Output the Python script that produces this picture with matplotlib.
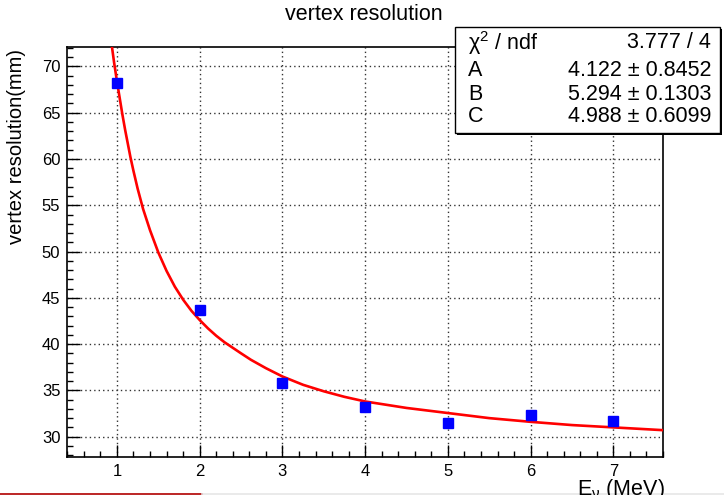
import numpy as np
import matplotlib.pyplot as plt
from matplotlib.patches import Rectangle
from matplotlib.ticker import MultipleLocator

plt.rcParams['font.family'] = ['Liberation Sans', 'DejaVu Sans']
plt.rcParams['mathtext.fontset'] = 'custom'
plt.rcParams['mathtext.rm'] = 'Liberation Sans'
plt.rcParams['mathtext.it'] = 'Liberation Sans'

# measured points
energy = [1, 2, 3, 4, 5, 6, 7]
resolution = [68.2, 43.7, 35.8, 33.2, 31.45, 32.3, 31.7]

# fit curve
fit_e = [0.94, 0.966, 1.0, 1.033, 1.066, 1.1, 1.163, 1.2, 1.25, 1.316,
         1.4, 1.5, 1.6, 1.7, 1.8, 1.9, 2.0, 2.1, 2.2, 2.3,
         2.4, 2.5, 2.62, 2.8, 3.0, 3.25, 3.5, 3.75, 4.0, 4.5,
         5.0, 5.5, 6.0, 6.5, 7.0, 7.6]
fit_r = [72.1, 70.4, 68.4, 66.6, 64.8, 63.1, 60.2, 58.7, 56.8, 54.6,
         52.3, 49.9, 47.9, 46.2, 44.8, 43.6, 42.6, 41.7, 40.9, 40.2,
         39.6, 39.0, 38.3, 37.4, 36.5, 35.6, 34.9, 34.3, 33.8, 33.1,
         32.55, 32.0, 31.6, 31.25, 31.0, 30.7]

# fit parameters
stat_names = [r'χ$^{2}$ / ndf', 'A', 'B', 'C']
stat_values = ['3.777 / 4', '4.122 ± 0.8452', '5.294 ± 0.1303', '4.988 ± 0.6099']

W, H = 724, 495
fig = plt.figure(figsize=(W / 100, H / 100), dpi=100)
ax = fig.add_axes([67.3 / W, 1 - 457 / H, (663 - 67.3) / W, (457 - 47) / H])

ax.plot(fit_e, fit_r, color='red', lw=1.9, zorder=3)
ax.plot(energy, resolution, 's', color='#0000ff', ms=6.5, mec='#0000ff', zorder=4)

ax.set_xlim(0.4, 7.6)
ax.set_ylim(27.8, 72.1)
ax.xaxis.set_major_locator(MultipleLocator(1))
ax.xaxis.set_minor_locator(MultipleLocator(0.2))
ax.yaxis.set_major_locator(MultipleLocator(5))
ax.yaxis.set_minor_locator(MultipleLocator(1))
ax.tick_params(which='both', direction='in', top=False, right=False,
               width=1.0, labelsize=12, color='black')
ax.tick_params(which='major', length=9, pad=5)
ax.tick_params(which='minor', length=4.5)
for s in ax.spines.values():
    s.set_linewidth(1.2)
ax.grid(True, which='major', linestyle=(0, (1, 2.2)), color='#333333', lw=1.0)

ax.set_ylabel('vertex resolution(mm)', fontsize=14.5)
ax.yaxis.set_label_coords(-41 / (663 - 67.3), 0.757)
fig.text(364 / W, 1 - 14 / H, 'vertex resolution', ha='center', va='center', fontsize=15.5)
fig.text(665 / W, 1 - 495 / H, r'E$_{\nu}$ (MeV)', ha='right', va='baseline', fontsize=15.5)

# stats box
bx0, by0, bx1, by1 = 455, 27, 720, 133
fig.patches.append(Rectangle(((bx0 + 1.5) / W, 1 - (by1 + 1.5) / H), (bx1 - bx0) / W, (by1 - by0) / H,
                             transform=fig.transFigure, facecolor='black', edgecolor='none', zorder=9))
fig.patches.append(Rectangle((bx0 / W, 1 - by1 / H), (bx1 - bx0) / W, (by1 - by0) / H,
                             transform=fig.transFigure, facecolor='white', edgecolor='black',
                             lw=1.0, zorder=10))
row_y = [43, 70, 94, 117]
for name, val, yy in zip(stat_names, stat_values, row_y):
    fig.text(468 / W, 1 - yy / H, name, ha='left', va='center', fontsize=15.5, zorder=11)
    fig.text(711 / W, 1 - yy / H, val, ha='right', va='center', fontsize=15.5, zorder=11)

# strip along the bottom edge
fig.add_artist(plt.Line2D([0, 202 / W], [0.8 / H, 0.8 / H], transform=fig.transFigure,
                          color='#b00000', lw=1.2))
fig.add_artist(plt.Line2D([202 / W, 1], [0.8 / H, 0.8 / H], transform=fig.transFigure,
                          color='#e6e6e6', lw=1.2))

fig.savefig('out.png', dpi=100)
